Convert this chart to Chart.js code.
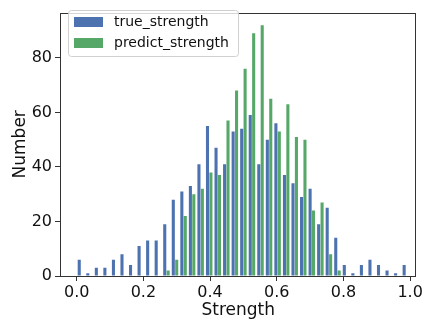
<!DOCTYPE html>
<html>
<head>
<meta charset="utf-8">
<script src="https://cdn.jsdelivr.net/npm/chart.js@4.4.1/dist/chart.umd.min.js"></script>
<style>
  html, body { margin: 0; padding: 0; background: #fff; }
</style>
</head>
<body>
<canvas id="histChart" width="425" height="323"></canvas>
<script>
// histogram bins over [0, 1]
const binCount = 39;
const binStart = 0;
const binEnd = 1;

const trueStrength = [6, 1, 3, 3, 6, 8, 4, 11, 13, 13, 19, 28, 31, 33, 41, 55, 47, 41, 53, 54,
                      59, 41, 50, 56, 37, 34, 29, 32, 19, 25, 14, 4, 1, 4, 6, 4, 2, 1, 4];
const predictStrength = [0, 0, 0, 0, 0, 0, 0, 0, 0, 0, 2, 6, 22, 30, 32, 38, 37, 57, 68, 76,
                         89, 92, 65, 53, 63, 51, 50, 24, 27, 8, 2, 0, 0, 0, 0, 0, 0, 0, 0];

const xTicks = [0.0, 0.2, 0.4, 0.6, 0.8, 1.0];
const yTicks = [0, 20, 40, 60, 80];
const seriesNames = ['true_strength', 'predict_strength'];
const seriesColors = ['#4C72B0', '#55A868'];

const binWidth = (binEnd - binStart) / binCount;
const binCenters = Array.from({ length: binCount }, (_, i) => binStart + (i + 0.5) * binWidth);

function toPoints(values) {
  return values.map((v, i) => ({ x: binCenters[i], y: v }));
}

const FONT = "'DejaVu Sans', sans-serif";

// frame round the plot area, like the matplotlib spines
const framePlugin = {
  id: 'frame',
  afterDatasetsDraw(chart) {
    const a = chart.chartArea;
    const ctx = chart.ctx;
    ctx.save();
    ctx.strokeStyle = '#333';
    ctx.lineWidth = 1;
    ctx.strokeRect(Math.round(a.left) - 0.5, Math.round(a.top) + 0.5,
                   Math.round(a.right - a.left) + 1, Math.round(a.bottom - a.top));
    ctx.restore();
  }
};

// legend box drawn inside the plot, upper left
const insideLegend = {
  id: 'insideLegend',
  afterDraw(chart) {
    const ctx = chart.ctx;
    ctx.save();
    const x = 68.5, y = 10.5, w = 170, h = 46, r = 3;
    ctx.beginPath();
    ctx.moveTo(x + r, y);
    ctx.arcTo(x + w, y, x + w, y + h, r);
    ctx.arcTo(x + w, y + h, x, y + h, r);
    ctx.arcTo(x, y + h, x, y, r);
    ctx.arcTo(x, y, x + w, y, r);
    ctx.closePath();
    ctx.fillStyle = 'rgba(255,255,255,0.8)';
    ctx.fill();
    ctx.strokeStyle = '#d0d0d0';
    ctx.lineWidth = 1;
    ctx.stroke();

    chart.data.datasets.forEach((ds, i) => {
      const cy = 22 + i * 21;
      ctx.fillStyle = ds.backgroundColor;
      ctx.fillRect(74, cy - 5, 29, 10);
      ctx.fillStyle = '#111';
      ctx.font = '14px ' + FONT;
      ctx.textBaseline = 'middle';
      ctx.textAlign = 'left';
      ctx.fillText(ds.label, 114, cy);
    });
    ctx.restore();
  }
};

const ctx = document.getElementById('histChart').getContext('2d');

const histChart = new Chart(ctx, {
  type: 'bar',
  data: {
    datasets: [
      {
        label: seriesNames[0],
        data: toPoints(trueStrength),
        backgroundColor: seriesColors[0],
        borderWidth: 0
      },
      {
        label: seriesNames[1],
        data: toPoints(predictStrength),
        backgroundColor: seriesColors[1],
        borderWidth: 0
      }
    ]
  },
  options: {
    responsive: false,
    animation: false,
    devicePixelRatio: 1,
    categoryPercentage: 0.8,
    barPercentage: 0.9,
    layout: { padding: { top: 3, right: 9, left: 0, bottom: 0 } },
    scales: {
      x: {
        type: 'linear',
        offset: false,
        min: -0.047,
        max: 1.016,
        afterBuildTicks: (scale) => { scale.ticks = xTicks.map(v => ({ value: v })); },
        afterFit: (scale) => { scale.height = 47; },
        grid: { display: true, drawOnChartArea: false, offset: false, tickLength: 5, color: '#333' },
        border: { display: false },
        ticks: {
          padding: 2,
          color: '#111',
          font: { family: FONT, size: 16 },
          maxRotation: 0,
          callback: (v) => v.toFixed(1)
        },
        title: {
          display: true,
          text: 'Strength',
          color: '#111',
          font: { family: FONT, size: 17 },
          padding: { top: 0, bottom: 2 }
        }
      },
      y: {
        min: 0,
        max: 96.6,
        afterBuildTicks: (scale) => { scale.ticks = yTicks.map(v => ({ value: v })); },
        afterFit: (scale) => { scale.width = 61; },
        grid: { display: true, drawOnChartArea: false, tickLength: 6, color: '#333' },
        border: { display: false },
        ticks: {
          padding: 3,
          color: '#111',
          font: { family: FONT, size: 16 }
        },
        title: {
          display: true,
          text: 'Number',
          color: '#111',
          font: { family: FONT, size: 17 },
          padding: { top: 10, bottom: 0 }
        }
      }
    },
    plugins: {
      legend: { display: false },
      tooltip: { enabled: false }
    }
  },
  plugins: [framePlugin, insideLegend]
});
</script>
</body>
</html>
